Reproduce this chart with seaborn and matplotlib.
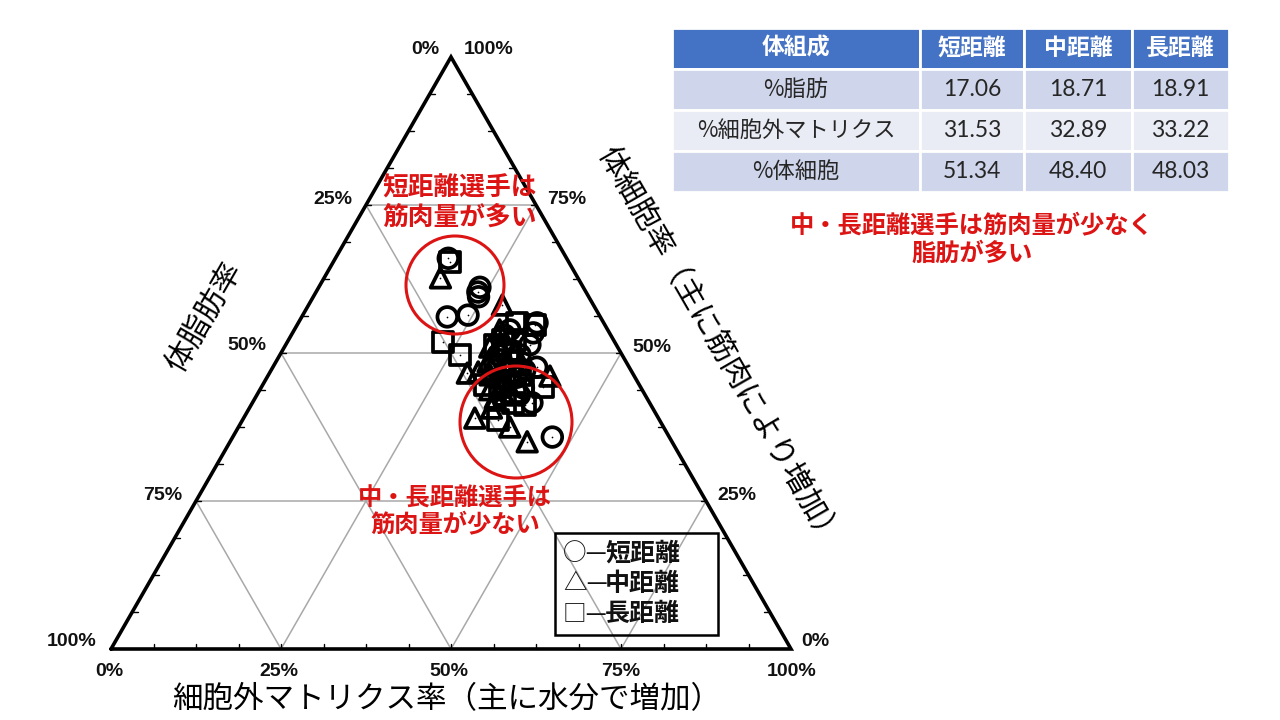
import numpy as np
import pandas as pd
import matplotlib
matplotlib.use("Agg")
import matplotlib.pyplot as plt
from matplotlib.patches import Circle, Rectangle
import seaborn as sns

# ---------------- data ----------------
groups = ["短距離", "中距離", "長距離"]
group_markers = {"短距離": "o", "中距離": "^", "長距離": "s"}

# short distance (circles): %fat, %ECM, %BCM
short_fat = [17.4, 15.2, 15.9, 16.2, 22.5, 19.3, 9.8, 11.2, 13.6, 17.3, 17.2, 17.4, 14.4, 18.2, 17.3, 12.7, 19.4, 18.5, 15.6, 15.0, 15.6]
short_ecm = [16.6, 23.7, 23.8, 24.3, 21.4, 24.3, 35.1, 35.4, 38.8, 41.1, 47.0, 36.7, 31.7, 32.1, 38.6, 35.9, 35.2, 38.6, 31.4, 35.3, 37.3]
short_bcm = [66.0, 61.1, 60.3, 59.5, 56.1, 56.4, 55.1, 53.4, 47.6, 41.6, 35.8, 45.9, 53.9, 49.7, 44.1, 51.4, 45.4, 42.9, 53.0, 49.7, 47.1]

# middle distance (triangles)
mid_fat = [20.2, 13.4, 24.3, 27.0, 23.7, 22.6, 21.3, 22.4, 18.8, 15.9, 12.4, 22.6, 20.3, 18.1, 15.4, 22.3, 19.3, 17.1, 15.9, 19.1, 19.9, 21.1, 20.7]
mid_ecm = [17.1, 28.5, 29.1, 34.0, 35.6, 39.9, 43.7, 33.8, 30.2, 30.2, 41.5, 30.6, 31.2, 33.9, 34.1, 35.3, 36.1, 31.5, 36.1, 32.1, 34.3, 32.6, 36.4]
mid_bcm = [62.7, 58.1, 46.6, 39.0, 40.7, 37.5, 35.0, 43.8, 51.0, 53.9, 46.1, 46.8, 48.5, 48.0, 50.5, 42.4, 44.6, 51.4, 48.0, 48.8, 45.8, 46.3, 42.9]

# long distance (squares)
long_fat = [17.4, 25.2, 23.8, 12.7, 10.3, 14.3, 20.1, 20.6, 16.3, 18.5, 17.8, 16.7, 22.7, 16.7, 23.7, 16.5, 20.0, 14.5, 17.9, 18.9]
long_ecm = [17.2, 22.9, 26.5, 32.2, 35.0, 41.4, 38.3, 35.1, 31.5, 40.3, 30.8, 34.8, 32.7, 37.0, 37.6, 33.3, 32.9, 33.3, 35.3, 37.7]
long_bcm = [65.4, 51.9, 49.7, 55.1, 54.7, 44.3, 41.6, 44.3, 52.2, 41.2, 51.4, 48.5, 44.6, 46.3, 38.7, 50.2, 47.1, 52.2, 46.8, 43.4]

# table
table_header = ["体組成", "短距離", "中距離", "長距離"]
table_rows = ["%脂肪", "%細胞外マトリクス", "%体細胞"]
table_short = ["17.06", "31.53", "51.34"]
table_mid = ["18.71", "32.89", "48.40"]
table_long = ["18.91", "33.22", "48.03"]

grid_levels = [0.25, 0.5, 0.75]
tick_labels = ["0%", "25%", "50%", "75%", "100%"]

# ---------------- build frame ----------------
frames = []
for g, f, e, b in [("短距離", short_fat, short_ecm, short_bcm),
                   ("中距離", mid_fat, mid_ecm, mid_bcm),
                   ("長距離", long_fat, long_ecm, long_bcm)]:
    frames.append(pd.DataFrame({"group": g, "fat": f, "ecm": e, "bcm": b}))
df = pd.concat(frames, ignore_index=True)
# ternary -> cartesian (bottom-left = fat 100, bottom-right = ECM 100, apex = BCM 100)
df["x"] = df["ecm"] / 100 + df["bcm"] / 200
df["y"] = df["bcm"] / 100

# ---------------- figure ----------------
sns.set_theme(style="white")
plt.rcParams["font.family"] = ["Noto Sans CJK JP", "DejaVu Sans"]
fig = plt.figure(figsize=(12.8, 7.2), dpi=100)
fig.patch.set_facecolor("white")

W, H = 1280, 720
L, R, B, T = 111, 791, 649, 57
tax = fig.add_axes([L / W, 1 - B / H, (R - L) / W, (B - T) / H])
tax.set_xlim(0, 1)
tax.set_ylim(0, 1)
tax.axis("off")

# grid lines
for k in grid_levels:
    tax.plot([k / 2, 1 - k / 2], [k, k], color="#a8a8a8", lw=1.1, zorder=1)
    tax.plot([k, k + (1 - k) / 2], [0, 1 - k], color="#a8a8a8", lw=1.1, zorder=1)
    tax.plot([1 - k, (1 - k) / 2], [0, 1 - k], color="#a8a8a8", lw=1.1, zorder=1)
# small ticks
for t in np.arange(1, 16) / 16:
    tax.plot([t, t], [0, 0.008], color="black", lw=1, zorder=2, clip_on=False)
    tax.plot([t / 2, t / 2 + 0.008], [t, t], color="black", lw=1, zorder=2, clip_on=False)
    tax.plot([1 - t / 2, 1 - t / 2 - 0.008], [t, t], color="black", lw=1, zorder=2, clip_on=False)
# triangle border
tax.plot([0, 1, 0.5, 0], [0, 0, 1, 0], color="black", lw=2.6, zorder=3, clip_on=False,
         solid_joinstyle="miter")

sns.scatterplot(data=df, x="x", y="y", style="group", markers=group_markers,
                style_order=groups, s=200, ax=tax, legend=False, zorder=4, clip_on=False)
for coll in tax.collections:
    coll.set_facecolor("none")
    coll.set_edgecolor("black")
    coll.set_linewidth(2.7)
sns.scatterplot(data=df, x="x", y="y", color="black", marker=".", s=6, ax=tax,
                legend=False, zorder=5, linewidth=0, clip_on=False)
tax.set_xlabel("")
tax.set_ylabel("")

# ---------------- overlay (pixel coordinates) ----------------
ov = fig.add_axes([0, 0, 1, 1], facecolor="none")
ov.set_xlim(0, W)
ov.set_ylim(H, 0)
ov.axis("off")

pct = dict(fontsize=14, fontweight="bold", family=["Liberation Sans", "DejaVu Sans"],
           color="#111111", ha="center", va="center")
# apex
ov.text(425, 50, tick_labels[0], **pct)
ov.text(489, 50, tick_labels[4], **pct)
# left (fat)
ov.text(333, 199, tick_labels[1], **pct)
ov.text(247, 346, tick_labels[2], **pct)
ov.text(163, 495, tick_labels[3], **pct)
ov.text(72, 641, tick_labels[4], **pct)
# bottom (ECM)
for lab, xx in zip(tick_labels, [109, 279, 449, 621, 792]):
    ov.text(xx, 672, lab, **pct)
# right (BCM)
ov.text(815, 641, tick_labels[0], **pct)
ov.text(737, 495, tick_labels[1], **pct)
ov.text(652, 347, tick_labels[2], **pct)
ov.text(567, 199, tick_labels[3], **pct)

# axis titles
ov.text(205, 318, "体脂肪率", fontsize=22, rotation=60, ha="center", va="center",
        rotation_mode="anchor", color="black")
ov.text(718, 347, "体細胞率（主に筋肉により増加）", fontsize=22, rotation=-60,
        ha="center", va="center", rotation_mode="anchor", color="black")
ov.text(447, 700, "細胞外マトリクス率（主に水分で増加）", fontsize=22,
        ha="center", va="center", color="black")

# red annotations
red = "#DC1414"
ov.add_patch(Circle((455, 285), 49, fill=False, edgecolor=red, lw=2.2, zorder=10))
ov.add_patch(Circle((516, 422), 56, fill=False, edgecolor=red, lw=2.2, zorder=10))
ov.text(460, 203, "短距離選手は\n筋肉量が多い", fontsize=18.5, color=red, ha="center",
        va="center", linespacing=1.1, fontweight="bold")
ov.text(455, 512, "中・長距離選手は\n筋肉量が少ない", fontsize=17.5, color=red, ha="center",
        va="center", linespacing=1.15, fontweight="bold")
ov.text(972, 240, "中・長距離選手は筋肉量が少なく\n脂肪が多い", fontsize=17.5, color=red,
        ha="center", va="center", linespacing=1.2, fontweight="bold")

# legend box
ov.add_patch(Rectangle((555, 533), 163, 102, fill=False, edgecolor="black", lw=1.8, zorder=10))
for i, (sym, g) in enumerate(zip(["○", "△", "□"], groups)):
    ov.text(563, 554 + 30 * i, sym + "—", fontsize=17, ha="left", va="center",
            color="#111111", fontweight="normal")
    ov.text(605, 554 + 30 * i, g, fontsize=18, ha="left", va="center",
            color="#111111", fontweight="bold")

# table
cell_text = [[r, a, b, c] for r, a, b, c in zip(table_rows, table_short, table_mid, table_long)]
col_w = np.array([248, 104, 108, 97], dtype=float)
tbl = ov.table(cellText=cell_text, colLabels=table_header, colWidths=list(col_w / col_w.sum()),
               cellLoc="center",
               bbox=[672 / W, 1 - 192 / H, (1229 - 672) / W, (192 - 28) / H])
tbl.auto_set_font_size(False)
row_colors = ["#CFD5EA", "#E9EBF5", "#CFD5EA"]
for (r, c), cell in tbl.get_celld().items():
    cell.set_edgecolor("white")
    cell.set_linewidth(2)
    txt = cell.get_text()
    if r == 0:
        cell.set_facecolor("#4472C4")
        txt.set_color("white")
        txt.set_fontweight("bold")
        txt.set_fontsize(16.5)
    else:
        cell.set_facecolor(row_colors[r - 1])
        txt.set_color("#262626")
        if c == 0:
            txt.set_fontsize(16)
        else:
            txt.set_fontsize(16.5)
            txt.set_family(["Lato", "DejaVu Sans"])

fig.savefig("out.png", dpi=100, facecolor="white")
